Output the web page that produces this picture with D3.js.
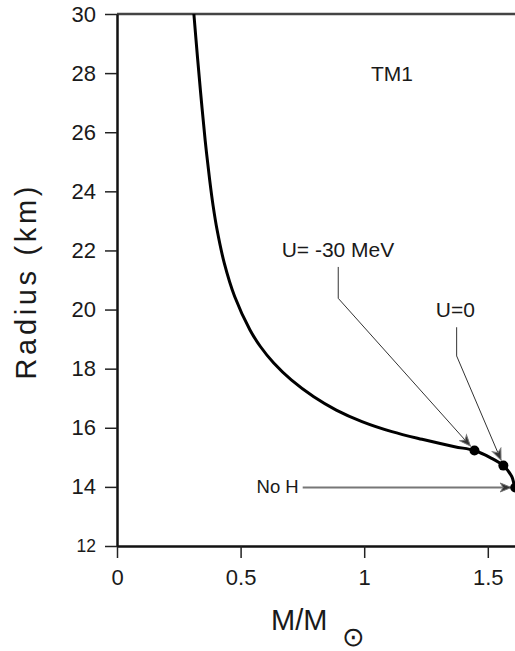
<!DOCTYPE html>
<html><head><meta charset="utf-8">
<script src="https://cdn.jsdelivr.net/npm/d3@7"></script>
<style>
html,body{margin:0;padding:0;background:#fff;overflow:hidden}
text{font-family:"Liberation Sans",Arial,sans-serif;fill:#1a1a1a}
</style></head><body>
<svg id="c" width="515" height="651"></svg>
<script>
// Mass-radius curve (TM1)
const mass   = [0.311,0.326,0.341,0.357,0.375,0.389,0.405,0.434,0.476,0.538,0.580,0.634,0.705,0.796,0.887,0.991,1.112,1.234,1.366,1.446,1.510,1.563,1.597,1.606,1.611];
const radius = [30.0,28.50,27.09,25.70,24.38,23.50,22.69,21.57,20.44,19.31,18.75,18.19,17.62,17.05,16.60,16.21,15.87,15.61,15.36,15.23,14.99,14.72,14.35,14.10,13.98];
// marked points
const markMass   = [1.446, 1.563, 1.611];
const markRadius = [15.23, 14.72, 13.98];
const markLabels = ["U= -30 MeV", "U=0", "No H"];
// annotation label anchor (data coords) and leader knee (data coords)
const labelMass   = [0.894, 1.369, 0.735];
const labelRadius = [21.78, 19.74, 14.0];
const kneeMass    = [0.895, 1.374, null];
const kneeRadius  = [20.38, 18.43, null];
const xTicks = [0, 0.5, 1, 1.5];
const xTickLabels = ["0", "0.5", "1", "1.5"];
const yTicks = [12,14,16,18,20,22,24,26,28,30];
const modelLabel = "TM1";

const svg = d3.select("#c");
const x = d3.scaleLinear().domain([0, 1.7]).range([117, 117 + 1.7*247.2]);
const y = d3.scaleLinear().domain([12, 30]).range([546, 14]);

// defs: arrowhead
const defs = svg.append("defs");
defs.append("marker").attr("id","arr").attr("viewBox","-12 -6 14 12")
  .attr("refX",0).attr("refY",0).attr("markerWidth",14).attr("markerHeight",12)
  .attr("markerUnits","userSpaceOnUse").attr("orient","auto")
  .append("path").attr("d","M0,0 L-11,-4.5 L-8,0 L-11,4.5 Z")
  .attr("fill","#333").attr("stroke","#777").attr("stroke-width",1);

// top frame
svg.append("line").attr("x1",x(0)).attr("x2",x(1.7)).attr("y1",y(30)).attr("y2",y(30))
  .attr("stroke","#444").attr("stroke-width",2.5);

// x axis
const xAxis = d3.axisBottom(x).tickValues(xTicks).tickSize(12).tickSizeOuter(0)
  .tickFormat((d,i)=>xTickLabels[i]);
const gx = svg.append("g").attr("transform",`translate(0,${y(12)})`).call(xAxis);
gx.select(".domain").attr("stroke","#111").attr("stroke-width",2.5);
gx.selectAll(".tick line").attr("stroke","#222").attr("stroke-width",1.5);
gx.selectAll(".tick text").attr("font-size",22).attr("dy",0).attr("y",39)
  .attr("font-family","Liberation Sans").attr("fill","#1a1a1a");

// y axis
const yAxis = d3.axisLeft(y).tickValues(yTicks).tickSize(12).tickSizeOuter(0).tickFormat(d3.format("d"));
const gy = svg.append("g").attr("transform",`translate(${x(0)},0)`).call(yAxis);
gy.select(".domain").attr("stroke","#111").attr("stroke-width",2.5);
gy.selectAll(".tick line").attr("stroke","#222").attr("stroke-width",1.5);
gy.selectAll(".tick text").attr("font-size",d=>d===12?17.5:22).attr("x",-21)
  .attr("font-family","Liberation Sans").attr("fill","#1a1a1a");

// axis titles
svg.append("text").attr("transform","translate(36,283) rotate(-90)")
  .attr("text-anchor","middle").attr("font-size",29)
  .attr("textLength",193).attr("lengthAdjust","spacing").text("Radius (km)");
svg.append("text").attr("x",271).attr("y",630).attr("font-size",29)
  .attr("font-family","DejaVu Sans").text("M/M");
svg.append("text").attr("x",353.5).attr("y",646).attr("font-size",27)
  .attr("text-anchor","middle").attr("font-family","DejaVu Sans").text("\u2299");

// model label
svg.append("text").attr("x",392).attr("y",81).attr("text-anchor","middle")
  .attr("font-size",21).text(modelLabel);

// curve
const pts = mass.map((m,i)=>[m, radius[i]]);
svg.append("path").datum(pts)
  .attr("d", d3.line().x(d=>x(d[0])).y(d=>y(d[1])).curve(d3.curveCatmullRom.alpha(0.5)))
  .attr("fill","none").attr("stroke","#000").attr("stroke-width",3);

// annotations
markMass.forEach((m,i)=>{
  const px = x(m), py = y(markRadius[i]);
  const lx = x(labelMass[i]), ly = y(labelRadius[i]);
  if (kneeMass[i] !== null) {
    const kx = x(kneeMass[i]), ky = y(kneeRadius[i]);
    const dx = px - kx, dy = py - ky, L = Math.hypot(dx,dy);
    const tx = px - dx/L*6, ty = py - dy/L*6;
    svg.append("text").attr("x",lx).attr("y",ly).attr("text-anchor","middle")
      .attr("font-size",21).text(markLabels[i]);
    svg.append("path").attr("d",`M${kx},${ly+10}L${kx},${ky}L${tx},${ty}`)
      .attr("fill","none").attr("stroke","#333").attr("stroke-width",1)
      .attr("marker-end","url(#arr)");
  } else {
    svg.append("text").attr("x",lx).attr("y",ly).attr("text-anchor","end")
      .attr("dominant-baseline","central").attr("font-size",18.5).text(markLabels[i]);
    svg.append("line").attr("x1",lx+4).attr("y1",py).attr("x2",px-4).attr("y2",py)
      .attr("stroke","#777").attr("stroke-width",2.2).attr("marker-end","url(#arr)");
  }
});

// dots
svg.selectAll("circle.mk").data(markMass).enter().append("circle").attr("class","mk")
  .attr("cx",d=>x(d)).attr("cy",(d,i)=>y(markRadius[i])).attr("r",5).attr("fill","#000");
</script></body></html>
